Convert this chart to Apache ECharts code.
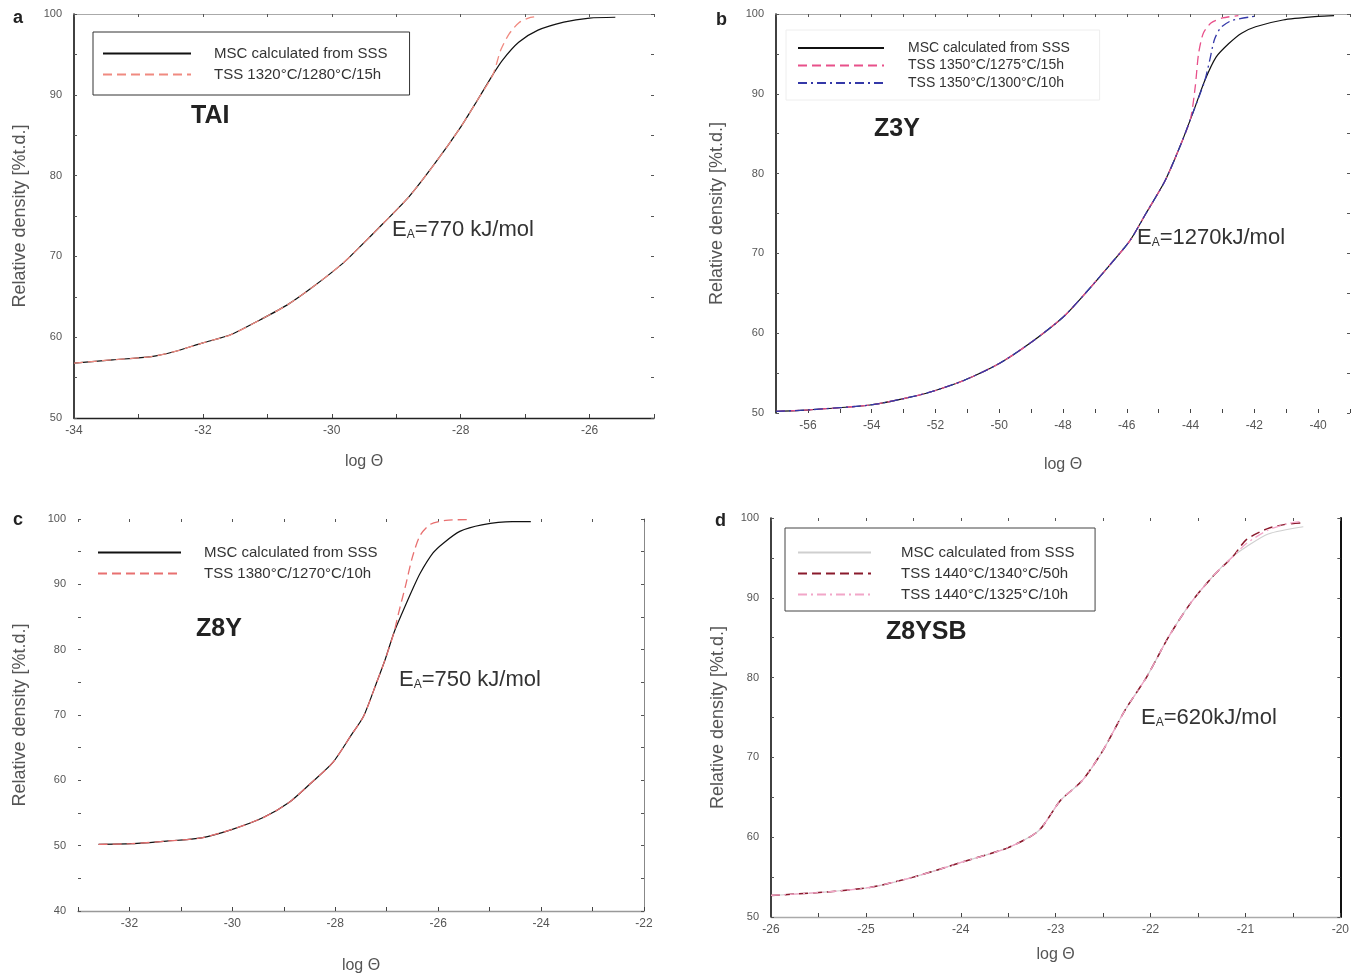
<!DOCTYPE html>
<html>
<head>
<meta charset="utf-8">
<script src="https://cdn.jsdelivr.net/npm/echarts@6/dist/echarts.min.js"></script>
<style>
html,body{margin:0;padding:0;background:#fff;}
#chart{width:1352px;height:975px;}
</style>
</head>
<body>
<div id="chart"></div>
<script>
// ---------------- DATA ----------------
// Panel a (TAI)
const aMscX = [-34, -33.4, -32.8, -32.45, -32.0, -31.57, -31.1, -30.69, -30.28, -29.82, -29.6, -29.2, -28.8, -28.4, -28.0, -27.75, -27.5, -27.35, -27.1, -26.8, -26.4, -26.0, -25.6];
const aMscY = [56.8, 57.2, 57.6, 58.2, 59.3, 60.3, 62.2, 64.0, 66.3, 69.2, 70.9, 74.1, 77.4, 81.5, 86.0, 89.2, 92.5, 94.3, 96.5, 98.0, 99.0, 99.5, 99.6];
const aTssX = [-34, -33.4, -32.8, -32.45, -32.0, -31.57, -31.1, -30.69, -30.28, -29.82, -29.6, -29.2, -28.8, -28.4, -28.0, -27.75, -27.5, -27.38, -27.25, -27.1, -26.95, -26.8];
const aTssY = [56.8, 57.2, 57.6, 58.2, 59.3, 60.3, 62.2, 64.0, 66.3, 69.2, 70.9, 74.1, 77.4, 81.5, 86.0, 89.2, 92.5, 95.5, 97.5, 98.9, 99.5, 99.7];

// Panel b (Z3Y)
const bMscX = [-57, -55.95, -54.05, -53.0, -52.1, -51.1, -50.0, -49.05, -48.0, -47.3, -46.5, -45.9, -45.4, -44.8, -44.3, -43.9, -43.55, -43.2, -42.8, -42.4, -41.96, -41.1, -40, -39.5];
const bMscY = [50.2, 50.4, 51.0, 51.8, 52.7, 54.1, 56.2, 58.7, 62.0, 65.0, 68.7, 71.6, 75.0, 79.1, 83.7, 87.9, 91.7, 94.6, 96.3, 97.6, 98.4, 99.25, 99.7, 99.8];
const bTss1X = [-57, -55.95, -54.05, -53.0, -52.1, -51.1, -50.0, -49.05, -48.0, -47.3, -46.5, -45.9, -45.4, -44.8, -44.3, -44.0, -43.85, -43.75, -43.6, -43.35, -43.0, -42.5];
const bTss1Y = [50.2, 50.4, 51.0, 51.8, 52.7, 54.1, 56.2, 58.7, 62.0, 65.0, 68.7, 71.6, 75.0, 79.1, 83.7, 86.9, 91.0, 95.0, 97.6, 98.9, 99.5, 99.8];
const bTss2X = [-57, -55.95, -54.05, -53.0, -52.1, -51.1, -50.0, -49.05, -48.0, -47.3, -46.5, -45.9, -45.4, -44.8, -44.3, -43.9, -43.55, -43.4, -43.25, -43.05, -42.7, -42.0];
const bTss2Y = [50.2, 50.4, 51.0, 51.8, 52.7, 54.1, 56.2, 58.7, 62.0, 65.0, 68.7, 71.6, 75.0, 79.1, 83.7, 87.9, 91.7, 94.2, 96.8, 98.3, 99.2, 99.7];

// Panel c (Z8Y)
const cMscX = [-32.6, -31.96, -31.28, -30.6, -30.0, -29.4, -28.9, -28.47, -28.05, -27.7, -27.45, -27.2, -27.03, -26.86, -26.7, -26.5, -26.35, -26.1, -25.9, -25.58, -25.15, -24.56, -24.2];
const cMscY = [50.2, 50.3, 50.7, 51.2, 52.5, 54.3, 56.6, 59.6, 62.7, 66.8, 69.8, 74.9, 78.5, 82.6, 85.6, 89.2, 91.7, 94.8, 96.3, 98.1, 99.1, 99.6, 99.6];
const cTssX = [-32.6, -31.96, -31.28, -30.6, -30.0, -29.4, -28.9, -28.47, -28.05, -27.7, -27.45, -27.2, -27.03, -26.86, -26.77, -26.64, -26.5, -26.35, -26.15, -25.85, -25.4];
const cTssY = [50.2, 50.3, 50.7, 51.2, 52.5, 54.3, 56.6, 59.6, 62.7, 66.8, 69.8, 74.9, 78.5, 82.6, 85.6, 89.6, 94.2, 97.5, 99.2, 99.8, 99.9];

// Panel d (Z8YSB)
const dMscX = [-26, -25.46, -24.96, -24.5, -23.98, -23.5, -23.18, -22.95, -22.72, -22.5, -22.27, -22.04, -21.81, -21.58, -21.35, -21.13, -20.99, -20.76, -20.39];
const dMscY = [52.7, 53.1, 53.7, 55.0, 56.9, 58.7, 60.8, 64.6, 67.1, 70.9, 75.9, 80.1, 85.1, 89.3, 92.6, 95.2, 96.4, 98.0, 98.9];
const dTss1X = [-26, -25.46, -24.96, -24.5, -23.98, -23.5, -23.18, -22.95, -22.72, -22.5, -22.27, -22.04, -21.81, -21.58, -21.35, -21.13, -20.99, -20.76, -20.58, -20.39];
const dTss1Y = [52.7, 53.1, 53.7, 55.0, 56.9, 58.7, 60.8, 64.6, 67.1, 70.9, 75.9, 80.1, 85.1, 89.3, 92.6, 95.2, 97.3, 98.7, 99.2, 99.4];
const dTss2X = [-26, -25.46, -24.96, -24.5, -23.98, -23.5, -23.18, -22.95, -22.72, -22.5, -22.27, -22.04, -21.81, -21.58, -21.35, -21.13, -20.99, -20.76, -20.55, -20.39];
const dTss2Y = [52.7, 53.1, 53.7, 55.0, 56.9, 58.7, 60.8, 64.6, 67.1, 70.9, 75.9, 80.1, 85.1, 89.3, 92.6, 95.2, 96.8, 98.5, 99.3, 99.6];

// Tick labels
const aXTicks = [-34, -32, -30, -28, -26];
const bXTicks = [-56, -54, -52, -50, -48, -46, -44, -42, -40];
const cXTicks = [-32, -30, -28, -26, -24, -22];
const dXTicks = [-26, -25, -24, -23, -22, -21, -20];
const aYTicks = [50, 60, 70, 80, 90, 100];
const bYTicks = [50, 60, 70, 80, 90, 100];
const cYTicks = [40, 50, 60, 70, 80, 90, 100];
const dYTicks = [50, 60, 70, 80, 90, 100];

// Legend / label texts
const MSC = 'MSC calculated from SSS';
const aLegend = [MSC, 'TSS 1320°C/1280°C/15h'];
const bLegend = [MSC, 'TSS 1350°C/1275°C/15h', 'TSS 1350°C/1300°C/10h'];
const cLegend = [MSC, 'TSS 1380°C/1270°C/10h'];
const dLegend = [MSC, 'TSS 1440°C/1340°C/50h', 'TSS 1440°C/1325°C/10h'];
const samples = ['TAI', 'Z3Y', 'Z8Y', 'Z8YSB'];
const energies = ['770 kJ/mol', '1270kJ/mol', '750 kJ/mol', '620kJ/mol'];
const letters = ['a', 'b', 'c', 'd'];

// ---------------- BUILD ----------------
const FONT = '"Liberation Sans", Arial, sans-serif';
const zip = (xs, ys) => xs.map((x, i) => [x, ys[i]]);
const uniq = (name, k) => name + ' '.repeat(k); // distinct legend keys per panel

const grids = [
  {left: 74, top: 14, width: 580, height: 404},
  {left: 776, top: 14, width: 574, height: 399},
  {left: 78, top: 519, width: 566, height: 393},
  {left: 771, top: 518, width: 570, height: 399}
];
const xRanges = [[-34, -25], [-57, -39], [-33, -22], [-26, -20]];
const yRanges = [[50, 100], [50, 100], [40, 100], [50, 100]];
const xTicks = [aXTicks, bXTicks, cXTicks, dXTicks];
const yTicks = [aYTicks, bYTicks, cYTicks, dYTicks];
const axStyle = [
  {left: '#111', bottom: '#222', top: '#aaa', right: null},
  {left: '#111', bottom: null, top: '#aaa', right: null},
  {left: null, bottom: '#999', top: null, right: '#888'},
  {left: '#111', bottom: '#aaa', top: null, right: '#111'}
];
const xNamePad = [36, 44, 47, 30];
const yNameGap = [45, 50, 49, 44];

function minor(ticks, step) {
  const out = [];
  for (let v = ticks[0] - step * 4; v <= ticks[ticks.length - 1] + step * 4 + 1e-9; v += step) out.push(+v.toFixed(3));
  return out;
}

const xAxis = [], yAxis = [];
for (let i = 0; i < 4; i++) {
  const [xmin, xmax] = xRanges[i];
  const [ymin, ymax] = yRanges[i];
  const st = axStyle[i];
  const xStep = (xTicks[i][1] - xTicks[i][0]) / 2;
  const xMinor = minor(xTicks[i], xStep).filter(v => v >= xmin && v <= xmax);
  const yMinor = minor(yTicks[i], 5).filter(v => v >= ymin && v <= ymax);
  xAxis.push({
    gridIndex: i, type: 'value', min: xmin, max: xmax, position: 'bottom',
    axisLine: {show: !!st.bottom, onZero: false, lineStyle: {color: st.bottom || '#000', width: 1.4}},
    axisTick: {show: true, inside: true, length: 4, customValues: xMinor, lineStyle: {color: '#444'}},
    axisLabel: {customValues: xTicks[i], fontSize: 12, color: '#555', margin: 7, fontFamily: FONT},
    splitLine: {show: false},
    name: 'log Θ', nameLocation: 'middle', nameGap: 0,
    nameTextStyle: {fontSize: 16, color: '#555', fontFamily: FONT, padding: [xNamePad[i], 0, 0, 0]}
  });
  xAxis.push({
    gridIndex: i, type: 'value', min: xmin, max: xmax, position: 'top',
    axisLine: {show: !!st.top, onZero: false, lineStyle: {color: st.top || '#000', width: 1}},
    axisTick: {show: true, inside: true, length: 3, customValues: xMinor, lineStyle: {color: '#555'}},
    axisLabel: {show: false}, splitLine: {show: false}
  });
  yAxis.push({
    gridIndex: i, type: 'value', min: ymin, max: ymax, position: 'left',
    axisLine: {show: !!st.left, onZero: false, lineStyle: {color: st.left || '#000', width: 1.6}},
    axisTick: {show: true, inside: true, length: 3, customValues: yMinor, lineStyle: {color: '#555'}},
    axisLabel: {customValues: yTicks[i], fontSize: 11, color: '#555', margin: 12, fontFamily: FONT},
    splitLine: {show: false},
    name: 'Relative density [%t.d.]', nameLocation: 'middle', nameGap: yNameGap[i],
    nameTextStyle: {fontSize: 18, color: '#555', fontFamily: FONT}
  });
  yAxis.push({
    gridIndex: i, type: 'value', min: ymin, max: ymax, position: 'right',
    axisLine: {show: !!st.right, onZero: false, lineStyle: {color: st.right || '#000', width: i === 3 ? 2 : 1}},
    axisTick: {show: true, inside: true, length: 3, customValues: yMinor, lineStyle: {color: '#555'}},
    axisLabel: {show: false}, splitLine: {show: false}
  });
}

function line(name, xs, ys, color, type, width, g) {
  return {
    name: name, type: 'line', xAxisIndex: g * 2, yAxisIndex: g * 2,
    data: zip(xs, ys), showSymbol: false, symbol: 'none',
    smooth: 0.25,
    lineStyle: {color: color, type: type, width: width},
    itemStyle: {color: color}, z: 3
  };
}
const DASH = [9, 5];
const DASHDOT = [9, 4, 2, 4];

const series = [
  line(uniq(aLegend[0], 1), aMscX, aMscY, '#111', 'solid', 1.2, 0),
  line(uniq(aLegend[1], 1), aTssX, aTssY, '#f08a80', DASH, 1.3, 0),
  line(uniq(bLegend[0], 2), bMscX, bMscY, '#111', 'solid', 1.2, 1),
  line(uniq(bLegend[1], 2), bTss1X, bTss1Y, '#e8508a', DASH, 1.3, 1),
  line(uniq(bLegend[2], 2), bTss2X, bTss2Y, '#3438a8', DASHDOT, 1.3, 1),
  line(uniq(cLegend[0], 3), cMscX, cMscY, '#111', 'solid', 1.2, 2),
  line(uniq(cLegend[1], 3), cTssX, cTssY, '#e87070', DASH, 1.3, 2),
  line(uniq(dLegend[0], 4), dMscX, dMscY, '#cfcfcf', 'solid', 1.2, 3),
  line(uniq(dLegend[1], 4), dTss1X, dTss1Y, '#8a1a2c', DASH, 1.5, 3),
  line(uniq(dLegend[2], 4), dTss2X, dTss2Y, '#f2a6c8', DASHDOT, 1.3, 3)
];

const legTxt = {fontSize: 15, color: '#333', fontFamily: FONT};
const legCommon = {orient: 'vertical', selectedMode: false, itemStyle: {opacity: 0, borderWidth: 0}};
const legend = [
  Object.assign({left: 93, top: 32, itemWidth: 88, itemHeight: 14, itemGap: 6, padding: [14, 18, 13, 9],
   borderColor: '#333', borderWidth: 1,
   data: aLegend.map(n => uniq(n, 1)), textStyle: Object.assign({padding: [0, 0, 0, 18]}, legTxt)}, legCommon),
  Object.assign({left: 786, top: 30, itemWidth: 86, itemHeight: 12, itemGap: 3.5, padding: [11, 22, 10, 11],
   borderColor: '#eee', borderWidth: 1,
   data: bLegend.map(n => uniq(n, 2)), textStyle: Object.assign({padding: [0, 0, 0, 19]}, legTxt, {fontSize: 14})}, legCommon),
  Object.assign({left: 88, top: 540, itemWidth: 83, itemHeight: 14, itemGap: 6, padding: [5, 10, 5, 9],
   data: cLegend.map(n => uniq(n, 3)), textStyle: Object.assign({padding: [0, 0, 0, 18]}, legTxt)}, legCommon),
  Object.assign({left: 785, top: 528, itemWidth: 73, itemHeight: 14, itemGap: 6, padding: [17, 4, 9, 12],
   borderColor: '#444', borderWidth: 1,
   data: dLegend.map(n => uniq(n, 4)), textStyle: Object.assign({padding: [0, 0, 0, 25]}, legTxt)}, legCommon)
];

const letterPos = [[13, 9], [716, 11], [13, 511], [715, 512]];
const samplePos = [[191, 104], [874, 117], [196, 617], [886, 620]];
const energyPos = [[392, 219], [1137, 227], [399, 669], [1141, 707]];
const title = [];
for (let i = 0; i < 4; i++) {
  title.push({text: letters[i], left: letterPos[i][0], top: letterPos[i][1], padding: 0,
    textStyle: {fontSize: 18, fontWeight: 'bold', color: '#222', fontFamily: FONT}});
  title.push({text: samples[i], left: samplePos[i][0], top: samplePos[i][1], padding: 0,
    textStyle: {fontSize: 25, fontWeight: 'bold', color: '#222', fontFamily: FONT}});
  title.push({text: '{e|E}{s|A}{e|=' + energies[i] + '}', left: energyPos[i][0], top: energyPos[i][1], padding: 0,
    textStyle: {fontFamily: FONT, fontWeight: 'normal', rich: {
      e: {fontSize: 22, lineHeight: 22, fontWeight: 'normal', verticalAlign: 'top', color: '#333', fontFamily: FONT},
      s: {fontSize: 12, lineHeight: 12, fontWeight: 'normal', verticalAlign: 'bottom', padding: [12, 0, 0, 0], color: '#333', fontFamily: FONT}
    }}});
}

const option = {
  backgroundColor: '#fff',
  animation: false,
  title: title,
  legend: legend,
  grid: grids,
  xAxis: xAxis,
  yAxis: yAxis,
  series: series
};
const chart = echarts.init(document.getElementById('chart'), null, {renderer: 'canvas'});
chart.setOption(option);
</script>
</body>
</html>
